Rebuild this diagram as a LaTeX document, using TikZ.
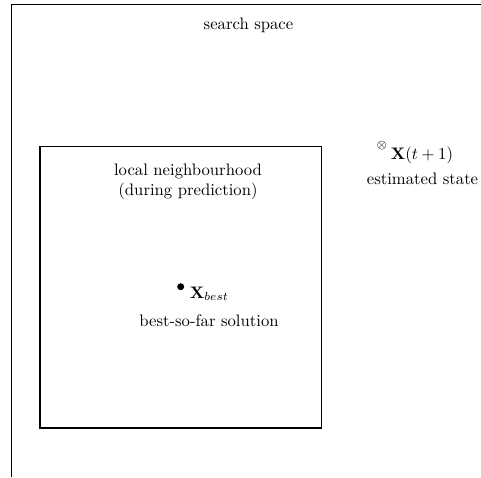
\documentclass[tikz,border=0pt]{standalone}
\usepackage{amsmath}
\begin{document}
\begin{tikzpicture}[x=0.6pt,y=-0.6pt,
  frame/.style={line width=0.8pt},
  lbl/.style={inner sep=0pt,align=center},
  dot/.style={circle,fill,inner sep=0pt,minimum size=4.2pt}]
\useasboundingbox (0,0) rectangle (481,477);
% search space border (only its top-left corner is in view)
\coordinate (sbl) at (11.5,477);
\coordinate (stl) at (11.5,4.5);
\coordinate (str) at (481,4.5);
\draw[frame] (sbl) -- (stl) -- (str);
\node[lbl] (ss) at (248.5,25) {search space};
% local neighbourhood
\draw[frame] (40,146.5) rectangle (321.5,428);
\node[lbl] (ln) at (188,181.5) {local neighbourhood\\(during prediction)};
% best-so-far solution
\node[dot] (xb) at (180.7,286.7) {};
\node[lbl,anchor=west] (xbl) at (189.5,294) {$\mathbf{X}_{best}$};
\node[lbl] (bsf) at (209,321) {best-so-far solution};
% estimated state
\node[lbl] (ot) at (381.7,146) {\scriptsize$\otimes$};
\node[lbl,anchor=west] (xt) at (390.5,155.5) {$\mathbf{X}(t+1)$};
\node[lbl] (es) at (422.5,178.5) {estimated state};
\end{tikzpicture}
\end{document}
